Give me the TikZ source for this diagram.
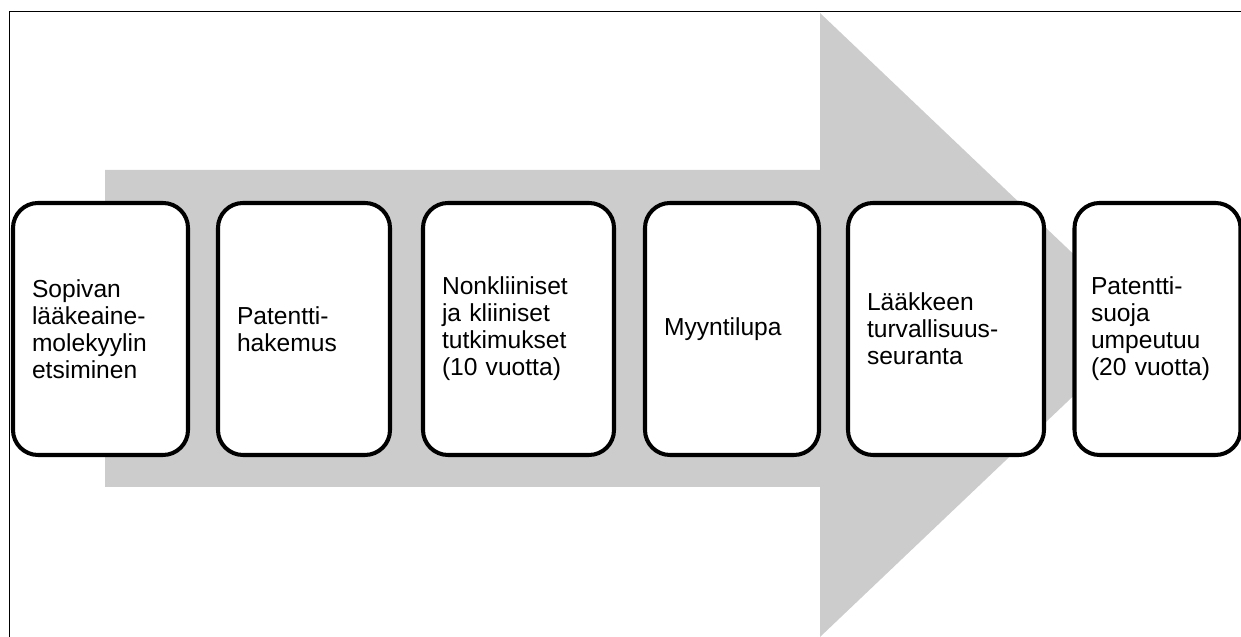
\documentclass[tikz,border=0pt]{standalone}
\usepackage{fontspec}
\setsansfont{Liberation Sans}
\tikzset{
  every picture/.style={font={\sffamily\fontsize{14}{15.4}\selectfont}}}

\begin{document}
\begin{tikzpicture}
    \tikzstyle{stage}=[draw, line width=2.3pt, rounded corners=0.5cm, fill=white,
      minimum height=5.04cm, inner xsep=0.38cm, align=left]

    \useasboundingbox (0, 0) rectangle (24.82, 12.74);

    % frame
    \draw[line width=0.75pt] (0.19, 0) -- (0.19, 12.51) -- (24.82, 12.51);

    % big arrow behind the stages
    \fill[black!20] (2.10, 3.00) -- (2.10, 9.34) -- (16.40, 9.34) -- (16.40, 12.48)
      -- (22.96, 6.24) -- (16.40, 0) -- (16.40, 3.00) -- cycle;

    \begin{scope}
      \node[stage, text width=2.74cm] (S1) at (2.01, 6.16)  {Sopivan\\lääkeaine-\\molekyylin\\etsiminen};
      \node[stage, text width=2.68cm] (S2) at (6.08, 6.16)  {Patentti-\\hakemus};
      \node[stage, text width=3.06cm] (S3) at (10.37, 6.16) {Nonkliiniset\\ja kliiniset\\tutkimukset\\(10 vuotta)};
      \node[stage, text width=2.72cm] (S4) at (14.64, 6.16) {Myyntilupa};
      \node[stage, text width=3.16cm] (S5) at (18.92, 6.16) {Lääkkeen\\turvallisuus-\\seuranta};
      \node[stage, text width=2.66cm, inner xsep=0.33cm] (S6) at (23.15, 6.16) {Patentti-\\suoja\\umpeutuu\\(20 vuotta)};
    \end{scope}
\end{tikzpicture}
\end{document}
